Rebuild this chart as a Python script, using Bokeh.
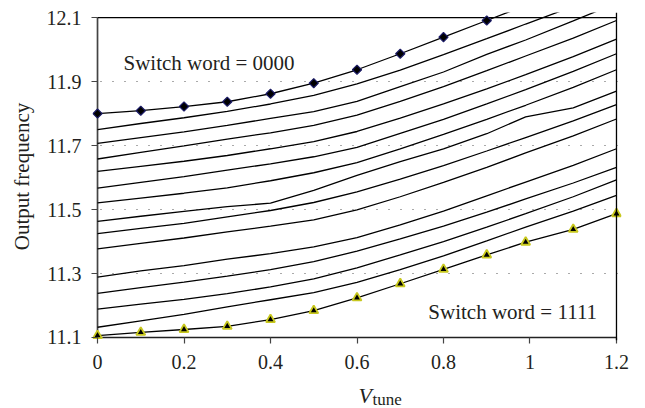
import math
from bokeh.plotting import figure
from bokeh.models import Span, Label, Title, FixedTicker, Range1d
from bokeh.embed import file_html
from bokeh.resources import INLINE

nan = float("nan")

# V_tune sample points
vtune = [0, 0.1, 0.2, 0.3, 0.4, 0.5, 0.6, 0.7, 0.8, 0.9, 0.99, 1.1, 1.2]

# Output frequency per switch word (top = 0000, bottom = 1111)
sw_0000 = [11.800, 11.809, 11.822, 11.837, 11.862, 11.895, 11.937, 11.987, 12.039, 12.091, 12.138, nan, nan]
c2 = [11.750, 11.769, 11.787, 11.807, 11.830, 11.857, 11.893, 11.936, 11.984, 12.034, 12.080, 12.135, nan]
c3 = [11.707, 11.725, 11.743, 11.763, 11.785, 11.806, 11.838, 11.884, 11.930, 11.985, 12.030, 12.090, 12.145]
c4 = [11.658, 11.679, 11.699, 11.720, 11.740, 11.763, 11.795, 11.838, 11.884, 11.934, 11.980, 12.036, 12.091]
c5 = [11.619, 11.635, 11.651, 11.669, 11.690, 11.712, 11.744, 11.786, 11.830, 11.877, 11.922, 11.978, 12.033]
c6 = [11.567, 11.585, 11.603, 11.623, 11.643, 11.665, 11.694, 11.738, 11.782, 11.830, 11.875, 11.932, 11.987]
c7 = [11.521, 11.536, 11.551, 11.568, 11.590, 11.615, 11.647, 11.690, 11.735, 11.782, 11.826, 11.882, 11.937]
c8 = [11.463, 11.479, 11.494, 11.509, 11.520, 11.560, 11.607, 11.650, 11.690, 11.737, 11.790, 11.818, 11.870]
c9 = [11.425, 11.441, 11.457, 11.477, 11.497, 11.522, 11.555, 11.595, 11.637, 11.683, 11.725, 11.777, 11.828]
c10 = [11.377, 11.394, 11.411, 11.430, 11.448, 11.468, 11.499, 11.540, 11.585, 11.632, 11.677, 11.730, 11.783]
c11 = [11.289, 11.308, 11.325, 11.345, 11.362, 11.383, 11.412, 11.452, 11.495, 11.543, 11.586, 11.638, 11.690]
c12 = [11.238, 11.256, 11.273, 11.292, 11.312, 11.337, 11.370, 11.408, 11.448, 11.492, 11.533, 11.583, 11.632]
c13 = [11.189, 11.204, 11.219, 11.237, 11.258, 11.283, 11.318, 11.358, 11.400, 11.445, 11.487, 11.540, 11.593]
c14 = [11.132, 11.152, 11.172, 11.196, 11.218, 11.240, 11.272, 11.312, 11.355, 11.402, 11.445, 11.495, 11.544]
sw_1111 = [11.106, 11.116, 11.125, 11.135, 11.156, 11.184, 11.224, 11.268, 11.313, 11.358, 11.398, 11.438, 11.487]

curves = [sw_0000, c2, c3, c4, c5, c6, c7, c8, c9, c10, c11, c12, c13, c14, sw_1111]
n_top_markers = 10

x_ticks = [0, 0.2, 0.4, 0.6, 0.8, 1.0, 1.2]
x_tick_labels = ["0", "0.2", "0.4", "0.6", "0.8", "1", "1.2"]
y_ticks = [11.1, 11.3, 11.5, 11.7, 11.9, 12.1]
y_tick_labels = ["11.1", "11.3", "11.5", "11.7", "11.9", "12.1"]
grid_levels = [11.3, 11.5, 11.7, 11.9]

x_min, x_max = 0, 1.2
y_min, y_top = 11.1, 12.1
# small padding so edge markers are not cut by the frame
x_pad, y_pad_lo, y_clip = 0.0116, 0.0094, 12.116

FONT = "Liberation Serif"
TXT = "#231f20"
AX = "#444444"

p = figure(width=645, height=408,
           x_range=Range1d(x_min - x_pad, x_max + x_pad),
           y_range=Range1d(y_min - y_pad_lo, y_clip),
           output_backend="svg", toolbar_location=None,
           min_border_left=92, min_border_right=24, min_border_top=12, min_border_bottom=68)
p.outline_line_color = None
p.background_fill_color = "white"
p.border_fill_color = "white"

p.xgrid.visible = False
p.ygrid.ticker = FixedTicker(ticks=grid_levels)
p.ygrid.grid_line_color = "#555555"
p.ygrid.grid_line_dash = "1 11"
p.ygrid.grid_line_dash_offset = 4
p.ygrid.grid_line_width = 1.2

for ax, ticks, labels in ((p.xaxis, x_ticks, x_tick_labels), (p.yaxis, y_ticks, y_tick_labels)):
    ax.ticker = FixedTicker(ticks=ticks)
    ax.major_label_overrides = dict(zip(ticks, labels))
    ax.minor_tick_line_color = None
    ax.axis_line_color = None
    ax.major_tick_line_color = AX
    ax.major_tick_line_width = 1.2
    ax.major_label_text_font = FONT
    ax.major_label_text_font_size = "20px"
    ax.major_label_text_color = TXT

p.yaxis.major_tick_in = 5
p.yaxis.major_tick_out = 1
p.yaxis.major_label_standoff = 10
p.xaxis.major_tick_in = 3
p.xaxis.major_tick_out = 3
p.xaxis.major_label_standoff = 11

p.yaxis.axis_label = "Output frequency"
p.yaxis.axis_label_text_font = FONT
p.yaxis.axis_label_text_font_style = "normal"
p.yaxis.axis_label_text_font_size = "21px"
p.yaxis.axis_label_text_color = TXT
p.yaxis.axis_label_standoff = 10

# x-axis title: italic V with subscript "tune" (titles under the axis; first one is a blank spacer)
p.add_layout(Title(text="\u00a0", align="left", offset=0, standoff=-4, vertical_align="top",
                   text_font=FONT, text_font_style="normal", text_font_size="10px",
                   text_color="white"), "below")
p.add_layout(Title(text="V", align="left", offset=266, standoff=1, vertical_align="bottom",
                   text_font=FONT, text_font_style="italic", text_font_size="22px",
                   text_color=TXT), "below")
p.add_layout(Title(text="tune", align="left", offset=280, standoff=-38, vertical_align="top",
                   text_font=FONT, text_font_style="normal", text_font_size="17px",
                   text_color=TXT), "below")

# axis lines and frame border
p.line([x_min, x_min], [y_min, y_top], line_color=AX, line_width=1.7)
p.line([x_min, x_max], [y_min, y_min], line_color="#222222", line_width=1.6)
p.line([x_min, x_max], [y_top, y_top], line_color="black", line_width=1.3)
p.add_layout(Span(location=x_max, dimension="height", line_color="black", line_width=1.3))

for c in curves:
    p.line(vtune, c, line_color="black", line_width=1.3)

p.scatter(vtune[:n_top_markers], sw_0000[:n_top_markers], marker="square", angle=math.pi / 4,
          size=6.5, fill_color="black", line_color="#1b1b66", line_width=1.2)
p.scatter(vtune, sw_1111, marker="triangle", size=9, fill_color="black",
          line_color="#c8c81e", line_width=1.8)

p.add_layout(Label(x=0.06, y=11.959, text="Switch word = 0000", text_font=FONT,
                   text_font_size="21px", text_color=TXT, text_baseline="alphabetic"))
p.add_layout(Label(x=0.765, y=11.181, text="Switch word = 1111", text_font=FONT,
                   text_font_size="21px", text_color=TXT, text_baseline="alphabetic"))

open("out.html", "w").write(file_html(p, INLINE))
